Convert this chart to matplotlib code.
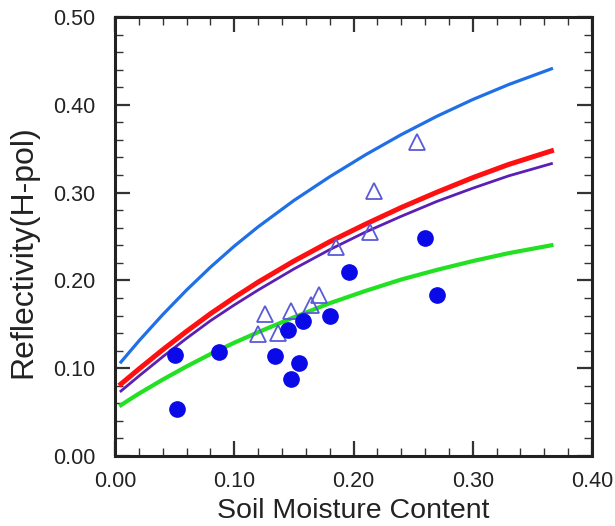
import matplotlib
matplotlib.use("Agg")
import matplotlib.pyplot as plt
from matplotlib.ticker import MultipleLocator, FormatStrFormatter

plt.rcParams['font.family'] = ['Liberation Sans', 'DejaVu Sans']

# model curves
curve_x = [0.005, 0.02, 0.04, 0.06, 0.08, 0.10, 0.12, 0.15, 0.18, 0.21, 0.24, 0.27, 0.30, 0.33, 0.366]
blue_curve = [0.107, 0.131, 0.161, 0.189, 0.215, 0.239, 0.261, 0.291, 0.318, 0.343, 0.366, 0.387, 0.406, 0.423, 0.441]
red_curve = [0.082, 0.099, 0.121, 0.142, 0.162, 0.1805, 0.198, 0.222, 0.244, 0.264, 0.283, 0.3005, 0.317, 0.332, 0.3475]
purple_curve = [0.074, 0.091, 0.113, 0.134, 0.154, 0.172, 0.189, 0.213, 0.235, 0.255, 0.273, 0.290, 0.305, 0.319, 0.333]
green_curve = [0.058, 0.071, 0.087, 0.102, 0.116, 0.129, 0.141, 0.158, 0.174, 0.188, 0.201, 0.212, 0.222, 0.231, 0.240]

# measured points, filled circles
dots_x = [0.050, 0.052, 0.087, 0.134, 0.145, 0.148, 0.154, 0.158, 0.180, 0.196, 0.260, 0.270]
dots_y = [0.115, 0.054, 0.119, 0.114, 0.143, 0.088, 0.106, 0.154, 0.159, 0.209, 0.248, 0.183]

# measured points, open triangles
tri_x = [0.120, 0.126, 0.137, 0.148, 0.164, 0.171, 0.185, 0.214, 0.217, 0.253]
tri_y = [0.139, 0.162, 0.140, 0.165, 0.172, 0.183, 0.238, 0.255, 0.302, 0.358]

fig = plt.figure(figsize=(6.15, 5.26), dpi=100)
ax = fig.add_axes([115 / 615, 1 - 456 / 526, 477 / 615, 439 / 526])

ax.plot(curve_x, blue_curve, color='#1f6fe6', lw=2.3, zorder=3)
ax.plot(curve_x, red_curve, color='#ff1010', lw=3.6, zorder=3)
ax.plot(curve_x, purple_curve, color='#5a1fb4', lw=2.0, zorder=3)
ax.plot(curve_x, green_curve, color='#22e022', lw=3.0, zorder=3)

ax.plot(tri_x, tri_y, ls='none', marker='^', ms=11, mfc='none', mec='#5a5ad8', mew=1.3, zorder=4)
ax.plot(dots_x, dots_y, ls='none', marker='o', ms=11, color='#0a0ae8', zorder=5)

ax.set_xlim(0, 0.40)
ax.set_ylim(0, 0.50)
ax.xaxis.set_major_locator(MultipleLocator(0.1))
ax.xaxis.set_minor_locator(MultipleLocator(0.02))
ax.yaxis.set_major_locator(MultipleLocator(0.1))
ax.yaxis.set_minor_locator(MultipleLocator(0.02))
ax.xaxis.set_major_formatter(FormatStrFormatter('%.2f'))
ax.yaxis.set_major_formatter(FormatStrFormatter('%.2f'))

ax.tick_params(which='both', direction='in', top=True, right=True, color='#333333',
               labelcolor='#222222', labelsize=15.5)
ax.tick_params(which='major', length=11, width=1.6)
ax.tick_params(which='minor', length=6, width=1.0)
ax.tick_params(axis='x', which='major', pad=11)
ax.tick_params(axis='y', which='major', pad=14)
for s in ax.spines.values():
    s.set_linewidth(2.2)
    s.set_color('#222222')

ax.set_xlabel('Soil Moisture Content', fontsize=20.5, color='#222222')
ax.set_ylabel('Reflectivity(H-pol)', fontsize=23, color='#222222')
ax.xaxis.set_label_coords(0.5, -0.095)
ax.yaxis.set_label_coords(-0.16, 0.465)

fig.savefig('out.png', dpi=100)
